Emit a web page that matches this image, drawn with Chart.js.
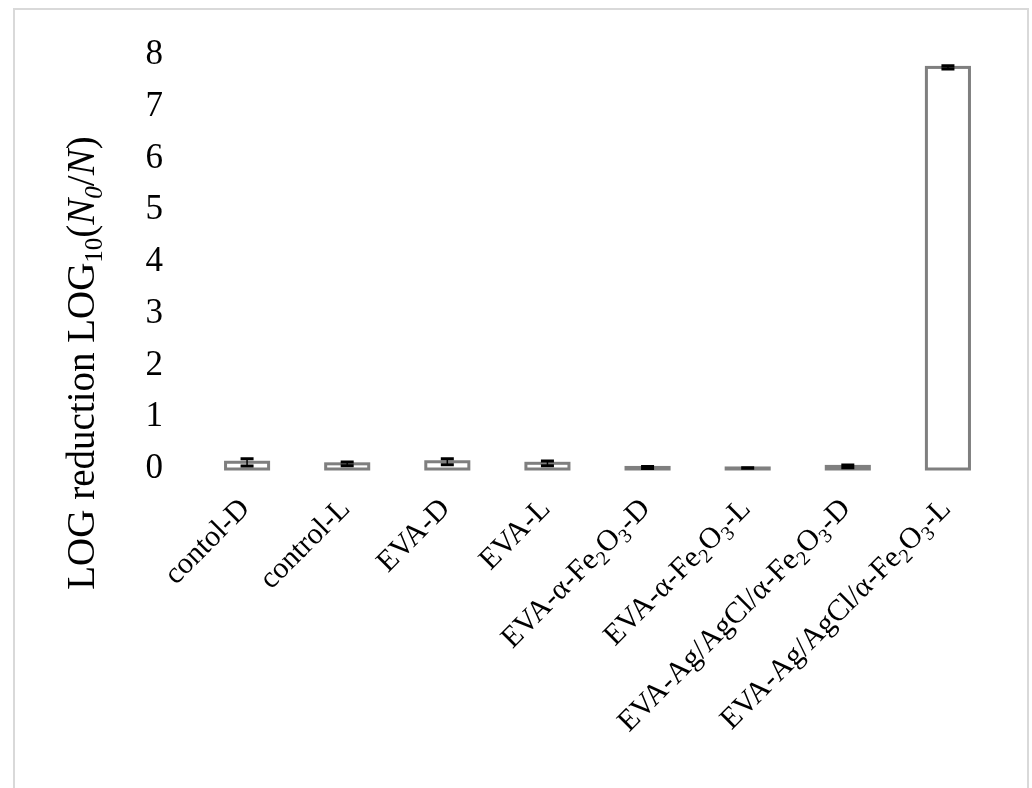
<!DOCTYPE html>
<html>
<head>
<meta charset="utf-8">
<title>LOG reduction</title>
<script src="https://cdn.jsdelivr.net/npm/chart.js@4.4.1/dist/chart.umd.min.js"></script>
<style>
  html, body { margin: 0; padding: 0; background: #ffffff; overflow: hidden; }
  #wrap { position: relative; width: 1032px; height: 788px; overflow: hidden; }
  #frame { position: absolute; left: 13px; top: 8px; width: 1012px; height: 900px; border: 2px solid #d9d9d9; box-sizing: content-box; }
  #chart { position: absolute; left: 0; top: 0; }
</style>
</head>
<body>
<div id="wrap">
  <div id="frame"></div>
  <canvas id="chart" width="1032" height="788"></canvas>
</div>
<script>
// Sample names (subscripts written as Unicode subscript digits)
const categories = [
  'contol-D',
  'control-L',
  'EVA-D',
  'EVA-L',
  'EVA-α-Fe₂O₃-D',
  'EVA-α-Fe₂O₃-L',
  'EVA-Ag/AgCl/α-Fe₂O₃-D',
  'EVA-Ag/AgCl/α-Fe₂O₃-L'
];

// Mean log reduction and its error (±)
const logReduction = [0.13, 0.10, 0.14, 0.11, 0.03, 0.02, 0.05, 7.76];
const errors = [0.07, 0.035, 0.06, 0.045, 0.02, 0.006, 0.025, 0.03];

// Value axis ticks
const yTicks = [0, 1, 2, 3, 4, 5, 6, 7, 8];

// Axis title; 'N' and its subscript are set in italics
const yTitle = 'LOG reduction LOG₁₀(N₀/N)';

const SERIF = '"Liberation Serif", "Times New Roman", "DejaVu Serif", serif';
const SUBS = '₀₁₂₃₄₅₆₇₈₉';

// Split a string into runs of normal text and subscript digits
function toRuns(str, italicChars) {
  const runs = [];
  let prevItalic = false;
  for (const ch of str) {
    const si = SUBS.indexOf(ch);
    const sub = si >= 0;
    const t = sub ? String(si) : ch;
    const it = sub ? prevItalic : (italicChars || '').includes(ch);
    const last = runs[runs.length - 1];
    if (last && last.sub === sub && last.it === it) last.t += t;
    else runs.push({ t, sub, it });
    if (!sub) prevItalic = it;
  }
  return runs;
}

function runFont(run, size) {
  const s = run.sub ? Math.round(size * 0.65) : size;
  return (run.it ? 'italic ' : '') + s + 'px ' + SERIF;
}

// Draws runs so that the text ends at local (0,0), vertically centred
function drawRunsEndingAt(ctx, runs, size) {
  let total = 0;
  for (const r of runs) { ctx.font = runFont(r, size); total += ctx.measureText(r.t).width; }
  let x = -total;
  ctx.textAlign = 'left';
  ctx.textBaseline = 'alphabetic';
  const base = size * 0.33;
  for (const r of runs) {
    ctx.font = runFont(r, size);
    ctx.fillText(r.t, x, base + (r.sub ? size * 0.2 : 0));
    x += ctx.measureText(r.t).width;
  }
}

function drawRunsCentered(ctx, runs, size) {
  let total = 0;
  for (const r of runs) { ctx.font = runFont(r, size); total += ctx.measureText(r.t).width; }
  ctx.save();
  ctx.translate(total / 2, 0);
  drawRunsEndingAt(ctx, runs, size);
  ctx.restore();
}

const decorations = {
  id: 'decorations',
  afterDatasetsDraw(chart) {
    const ctx = chart.ctx;
    const y = chart.scales.y;
    const meta = chart.getDatasetMeta(0);
    ctx.save();
    // bar outlines, centred on the bar edges
    ctx.strokeStyle = '#7f7f7f';
    ctx.lineWidth = 3;
    meta.data.forEach(el => {
      const w = el.width;
      ctx.strokeRect(el.x - w / 2, el.y, w, el.base - el.y);
    });
    // error bars
    ctx.strokeStyle = '#000000';
    meta.data.forEach((el, i) => {
      const top = y.getPixelForValue(logReduction[i] + errors[i]);
      const bot = y.getPixelForValue(Math.max(0, logReduction[i] - errors[i]));
      ctx.lineWidth = 1.5;
      ctx.beginPath();
      ctx.moveTo(el.x, top); ctx.lineTo(el.x, bot);
      ctx.stroke();
      ctx.lineWidth = 3;
      ctx.beginPath();
      ctx.moveTo(el.x - 6.5, top); ctx.lineTo(el.x + 6.5, top);
      ctx.moveTo(el.x - 6.5, bot); ctx.lineTo(el.x + 6.5, bot);
      ctx.stroke();
    });
    ctx.restore();
  },
  afterDraw(chart) {
    const ctx = chart.ctx;
    const x = chart.scales.x;
    const area = chart.chartArea;
    ctx.save();
    ctx.fillStyle = '#000000';
    // rotated category labels
    categories.forEach((label, i) => {
      const px = x.getPixelForTick(i);
      ctx.save();
      ctx.translate(px - 3, area.bottom + 34);
      ctx.rotate(-Math.PI / 4);
      drawRunsEndingAt(ctx, toRuns(label), 30);
      ctx.restore();
    });
    // vertical axis title
    ctx.save();
    ctx.translate(81, 363);
    ctx.rotate(-Math.PI / 2);
    drawRunsCentered(ctx, toRuns(yTitle.slice(0, 14)).concat(toRuns(yTitle.slice(14), 'N')), 39);
    ctx.restore();
    ctx.restore();
  }
};

new Chart(document.getElementById('chart'), {
  type: 'bar',
  data: {
    labels: categories,
    datasets: [{
      data: logReduction,
      backgroundColor: '#ffffff',
      borderWidth: 0,
      barPercentage: 0.43,
      categoryPercentage: 1.0
    }]
  },
  options: {
    responsive: false,
    animation: false,
    events: [],
    layout: { padding: { top: 52, right: 34, left: 0, bottom: 0 } },
    plugins: { legend: { display: false }, tooltip: { enabled: false } },
    scales: {
      x: {
        grid: { display: false, drawTicks: false },
        border: { display: false },
        ticks: { display: false },
        afterFit(s) { s.height = 319; }
      },
      y: {
        min: yTicks[0],
        max: yTicks[yTicks.length - 1],
        afterBuildTicks(s) { s.ticks = yTicks.map(v => ({ value: v })); },
        grid: { display: false, drawTicks: false },
        border: { display: false },
        ticks: { padding: 34, color: '#000000', font: { family: SERIF, size: 35 } },
        afterFit(s) { s.width = 197; }
      }
    }
  },
  plugins: [decorations]
});
</script>
</body>
</html>
